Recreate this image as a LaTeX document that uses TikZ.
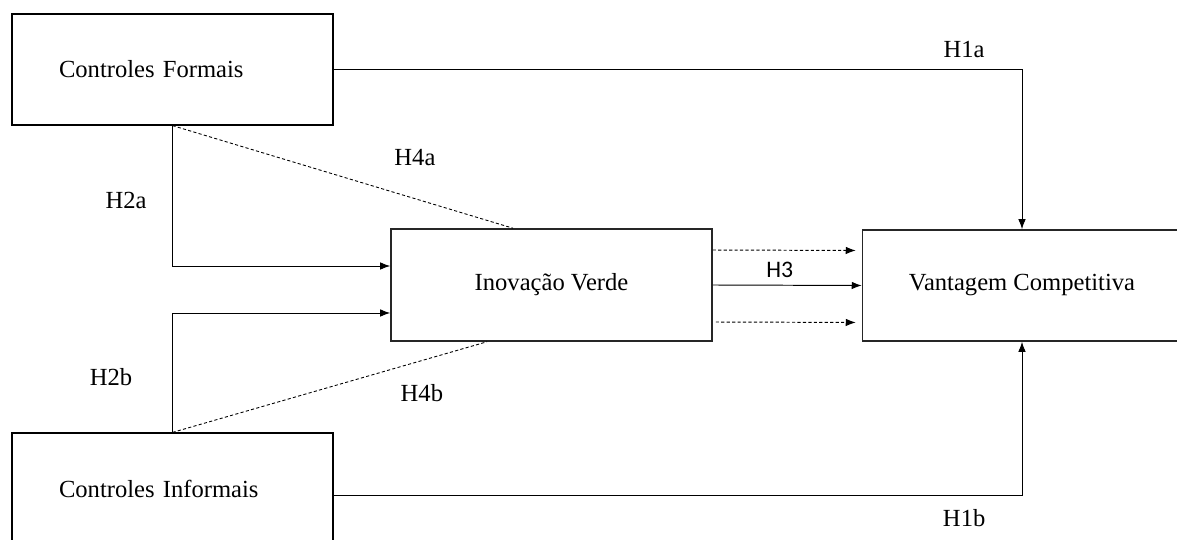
\documentclass[tikz,border=0pt]{standalone}
\usepackage{fontspec}
\setmainfont{Liberation Serif}
\newfontfamily\rotulofont{Carlito}
\usepackage{tikz}
\usetikzlibrary{arrows.meta, positioning}

\begin{document}
\begin{tikzpicture}[
            x=0.02cm, y=-0.02cm,               % 1 unidade = 1 pixel da figura
            every node/.style={font=\fontsize{14}{17}\selectfont},
            block/.style={
                rectangle,
                draw=black!85,
                line width=0.9pt,
                minimum width=6.42cm,
                minimum height=2.22cm,
                text centered,
                inner sep=0pt
            },
            leftblock/.style={
                block,
                draw=black,
                line width=0.7pt,
                text width=4.54cm,
                inner xsep=0.94cm,
                align=left
            },
            line/.style={
                draw,
                line width=0.55pt,
                -{Latex[length=0.2cm, width=0.15cm]}
            },
            dline/.style={
                line,
                dash pattern=on 1.8pt off 1.3pt
            },
            rotulo/.style={
                inner sep=0pt
            }
        ]
            \useasboundingbox (0,0) rectangle (1177,540);

            % --- NÓS ---
            \node [leftblock] (formais) at (172.5,69.5) {Controles Formais};

            \node [leftblock] (informais) at (172.5,488.5) {Controles Informais};

            \node [block, minimum height=2.24cm] (inovacao) at (551.5,285) {Inovação Verde};

            \node [block, minimum width=6.38cm] (vantagem) at (1022,285.5) {Vantagem Competitiva};

            % --- LIGAÇÕES ---
            \path [line] (formais.east) -| node[rotulo, pos=0.458, yshift=0.4cm] {H1a} (vantagem.north);
            \path [line] ([yshift=-0.13cm]informais.east) -| node[rotulo, pos=0.458, yshift=-0.46cm] {H1b} (vantagem.south);

            \path [line] (formais.south) |- node[rotulo, pos=0.266, xshift=-0.93cm] {H2a} ([yshift=0.38cm]inovacao.west);
            \path [line] (informais.north) |- node[rotulo, pos=0.233, xshift=-1.23cm] {H2b} ([yshift=-0.56cm]inovacao.west);

            \draw [line width=0.5pt, dash pattern=on 1.8pt off 1.3pt] (formais.south) -- node[rotulo, pos=0.712, yshift=0.82cm] {H4a} ([xshift=-0.77cm]inovacao.north);
            \draw [line width=0.5pt, dash pattern=on 1.8pt off 1.3pt] (informais.north) -- node[rotulo, pos=0.793, yshift=-0.66cm] {H4b} ([xshift=-1.29cm]inovacao.south);

            \path [dline, shorten >=0.12cm] ([yshift=0.7cm]inovacao.east) -- ([yshift=0.7cm]vantagem.west);
            \path [line] (inovacao.east) -- node[rotulo, pos=0.45, yshift=0.3cm, font=\rotulofont\fontsize{13.5}{16}\selectfont] {H3} (vantagem.west);
            \path [dline, shorten <=0.06cm, shorten >=0.12cm] ([yshift=-0.74cm]inovacao.east) -- ([yshift=-0.74cm]vantagem.west);
        \end{tikzpicture}
\end{document}
